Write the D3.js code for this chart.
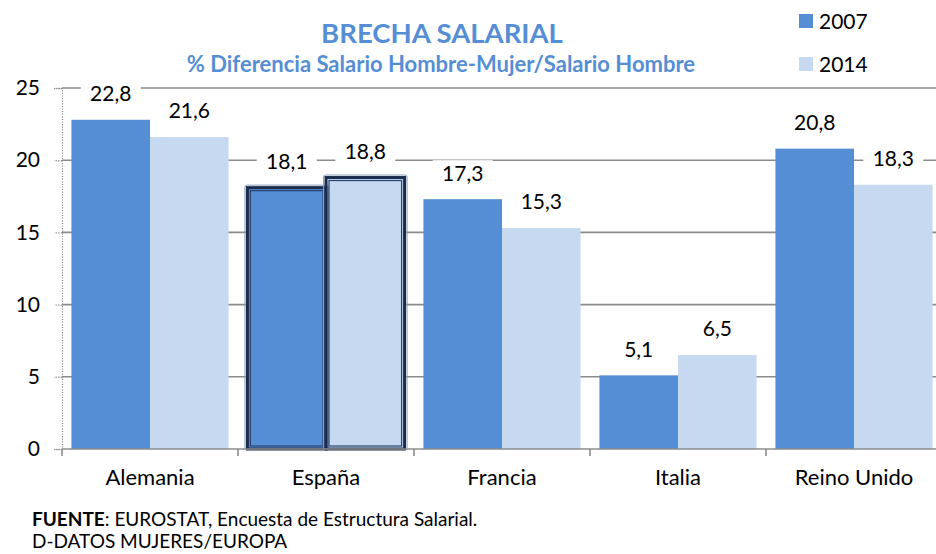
<!DOCTYPE html>
<html>
<head>
<meta charset="utf-8">
<script src="https://cdn.jsdelivr.net/npm/d3@7"></script>
<style>
  html, body { margin: 0; padding: 0; background: #fff; }
  svg { display: block; font-family: Lato, "Open Sans", sans-serif; }
</style>
</head>
<body>
<svg id="chart" width="936" height="554"></svg>
<script>
// Gender pay gap by country, 2007 vs 2014
const countries = ["Alemania", "España", "Francia", "Italia", "Reino Unido"];
const years = ["2007", "2014"];
const gap2007 = [22.8, 18.1, 17.3, 5.1, 20.8];
const gap2014 = [21.6, 18.8, 15.3, 6.5, 18.3];
const yTicks = [0, 5, 10, 15, 20, 25];
const highlighted = "España";

const colors = { "2007": "#558ed5", "2014": "#c6d9f1" };
const seriesValues = { "2007": gap2007, "2014": gap2014 };

const svg = d3.select("#chart");

const plot = { left: 62, right: 942, top: 88, bottom: 449 };

const x0 = d3.scaleBand().domain(countries).range([plot.left, plot.right]).padding(0);
const x1 = d3.scaleBand().domain(years).range([0, x0.bandwidth()]).paddingInner(0).paddingOuter(0.12);
const y = d3.scaleLinear().domain([0, 25]).range([plot.bottom, plot.top]);

const fmt = v => v.toFixed(1).replace(".", ",");

// Horizontal gridlines
svg.append("g")
  .selectAll("line")
  .data(yTicks.filter(t => t > 0))
  .join("line")
  .attr("x1", plot.left).attr("x2", plot.right)
  .attr("y1", d => y(d)).attr("y2", d => y(d))
  .attr("stroke", "#8c8c8c").attr("stroke-width", 1.6);

// Y axis: dotted line with dotted ticks
const yAxis = svg.append("g").attr("transform", `translate(${plot.left},0)`)
  .call(d3.axisLeft(y).tickValues(yTicks).tickSize(8).tickPadding(14).tickFormat(d3.format("d")));
yAxis.select(".domain").attr("stroke", "#8c8c8c").attr("stroke-dasharray", "1.2,1.4").attr("stroke-width", 1.2);
yAxis.selectAll(".tick line").attr("stroke", "#8c8c8c").attr("stroke-dasharray", "1.2,1.4").attr("stroke-width", 1.4);
yAxis.selectAll(".tick text").attr("font-size", 21).attr("fill", "#000").attr("font-family", "Lato, sans-serif");

// Flat series table
const rows = [];
countries.forEach((c, i) => years.forEach(yr => rows.push({ country: c, year: yr, value: seriesValues[yr][i] })));

// Bars
const bars = svg.append("g");
bars.selectAll("rect")
  .data(rows)
  .join("rect")
  .attr("x", d => x0(d.country) + x1(d.year))
  .attr("y", d => y(d.value))
  .attr("width", x1.bandwidth())
  .attr("height", d => y(0) - y(d.value))
  .attr("fill", d => colors[d.year]);

// Selection-style framing on the highlighted country
const hl = rows.filter(d => d.country === highlighted);
const frames = svg.append("g");
hl.forEach(d => {
  const bx = x0(d.country) + x1(d.year), by = y(d.value), bw = x1.bandwidth(), bh = y(0) - y(d.value);
  frames.append("rect").attr("x", bx - 2.5).attr("y", by - 2.5).attr("width", bw + 5).attr("height", bh + 3)
    .attr("rx", 2).attr("fill", "none").attr("stroke", "#8aa0bd").attr("stroke-width", 1);
  frames.append("rect").attr("x", bx).attr("y", by).attr("width", bw).attr("height", bh)
    .attr("fill", "none").attr("stroke", "#1c2d4c").attr("stroke-width", 3);
  frames.append("rect").attr("x", bx + 3).attr("y", by + 3).attr("width", bw - 6).attr("height", bh - 6)
    .attr("fill", "none").attr("stroke", "#2a4370").attr("stroke-width", 1.2);
});

// X axis baseline with category separators
const xAxis = svg.append("g").attr("transform", `translate(0,${plot.bottom})`);
xAxis.append("line").attr("x1", plot.left).attr("x2", plot.right).attr("y1", 0).attr("y2", 0)
  .attr("stroke", "#8c8c8c").attr("stroke-width", 1.6);
xAxis.selectAll("line.sep")
  .data(countries)
  .join("line").attr("class", "sep")
  .attr("x1", d => x0(d)).attr("x2", d => x0(d))
  .attr("y1", 0).attr("y2", 7)
  .attr("stroke", "#8c8c8c").attr("stroke-width", 1.6);
xAxis.selectAll("text")
  .data(countries)
  .join("text")
  .attr("x", d => x0(d) + x0.bandwidth() / 2)
  .attr("y", 36)
  .attr("text-anchor", "middle")
  .attr("font-size", 22)
  .attr("fill", "#000")
  .text(d => d);

// Value labels on white boxes above each bar
const labels = svg.append("g");
const lg = labels.selectAll("g").data(rows).join("g")
  .attr("transform", d => `translate(${x0(d.country) + x1(d.year) + x1.bandwidth() / 2},${y(d.value) - 26})`);
lg.append("rect").attr("x", -30).attr("y", -13).attr("width", 60).attr("height", 26).attr("fill", "#fff");
lg.append("text")
  .attr("text-anchor", "middle")
  .attr("dy", "0.35em")
  .attr("font-size", 21)
  .attr("fill", "#000")
  .text(d => fmt(d.value));

// Titles
svg.append("text").attr("x", 442).attr("y", 43).attr("text-anchor", "middle")
  .attr("font-size", 27.5).attr("font-weight", 700).attr("fill", "#558ed5")
  .text("BRECHA SALARIAL");
svg.append("text").attr("x", 441).attr("y", 72).attr("text-anchor", "middle")
  .attr("font-size", 22).attr("font-weight", 700).attr("fill", "#558ed5")
  .text("% Diferencia Salario Hombre-Mujer/Salario Hombre");

// Legend
const legend = svg.append("g").attr("transform", "translate(799,14)");
years.forEach((yr, i) => {
  const g = legend.append("g").attr("transform", `translate(0,${i * 43})`);
  g.append("rect").attr("width", 14).attr("height", 14).attr("fill", colors[yr]);
  g.append("text").attr("x", 20).attr("y", 15).attr("font-size", 21).attr("fill", "#000").text(yr);
});

// Source note
const note = svg.append("text").attr("x", 32).attr("y", 526).attr("font-size", 19).attr("fill", "#000");
note.append("tspan").attr("font-weight", 700).text("FUENTE");
note.append("tspan").text(": EUROSTAT, Encuesta de Estructura Salarial.");
svg.append("text").attr("x", 32).attr("y", 548).attr("font-size", 19).attr("fill", "#000")
  .text("D-DATOS MUJERES/EUROPA");
</script>
</body>
</html>
